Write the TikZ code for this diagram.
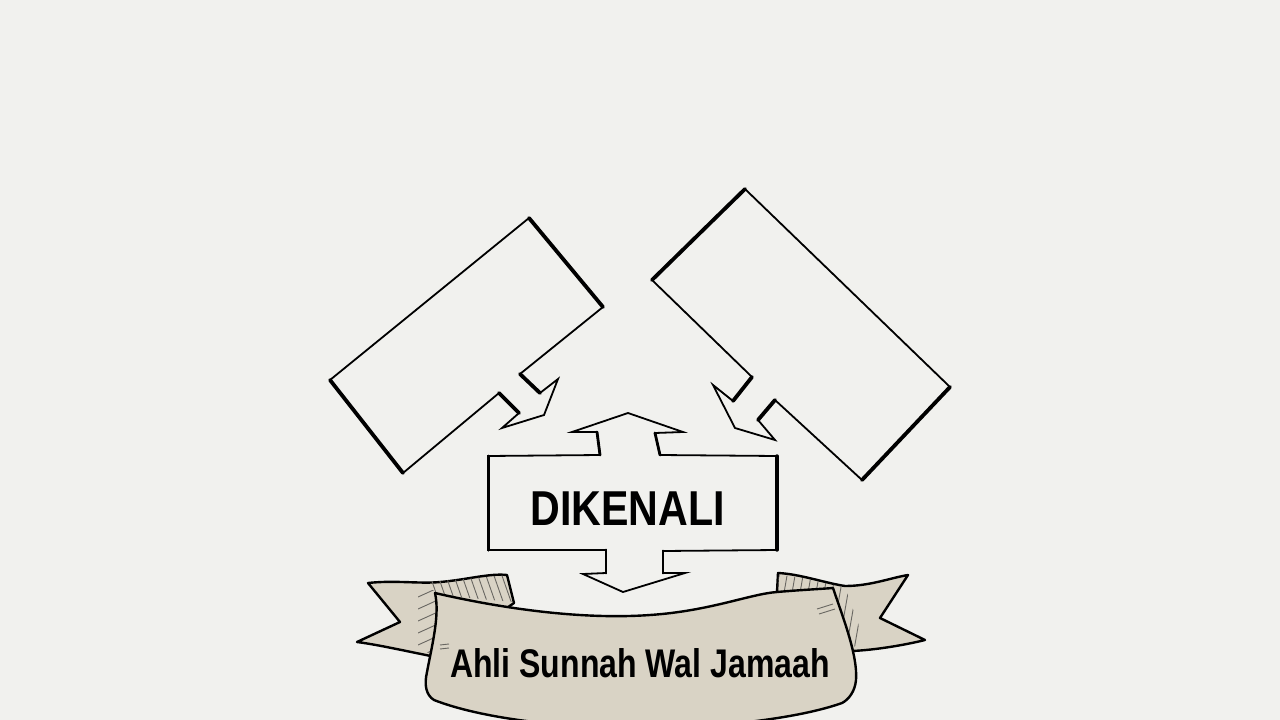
\documentclass[tikz,border=0pt]{standalone}
\usepackage{fontspec}
\newfontfamily\dkfont[FakeStretch=0.84]{Liberation Sans}
\newfontfamily\bnfont[FakeStretch=0.80]{Liberation Sans}
\definecolor{paper}{RGB}{241,241,238}
\definecolor{ribbon}{RGB}{217,211,197}
\definecolor{hatch}{RGB}{105,103,98}
\tikzset{
 outline/.style={draw=black, line width=1.8pt, line join=miter, fill=paper},
 heavy/.style={draw=black, line width=3.8pt, line cap=round},
 ribbonline/.style={draw=black, line width=2.4pt, fill=ribbon, line join=round},
 hatchline/.style={draw=hatch, line width=0.9pt},
 lbl/.style={inner sep=0pt, anchor=base, text=black}
}
\begin{document}
\begin{tikzpicture}[x=1pt,y=-1pt]
\fill[paper] (0,0) rectangle (1280,720);
\useasboundingbox (0,0) rectangle (1280,720);

% ---------- left box ----------
\coordinate (L1) at (529,218);
\coordinate (L2) at (603,307);
\coordinate (La) at (520,374);
\coordinate (Lb) at (540,393);
\coordinate (Lc) at (558,379);
\coordinate (Ld) at (544,415);
\coordinate (Le) at (502,428);
\coordinate (Lf) at (519,413);
\coordinate (Lg) at (499,393);
\coordinate (L3) at (403,473);
\coordinate (L4) at (330,380);
\draw[outline] (L1) -- (L2) -- (La) -- (Lb) -- (Lc) -- (Ld) -- (Le) -- (Lf) -- (Lg) -- (L3) -- (L4) -- cycle;
\draw[heavy] (L1) -- (L2);
\draw[heavy] (L4) -- (L3);
\draw[heavy] (La) -- (Lb);
\draw[heavy] (Lg) -- (Lf);

% ---------- right box ----------
\coordinate (R1) at (745,189);
\coordinate (R2) at (950,387);
\coordinate (R3) at (862,480);
\coordinate (Ra) at (775,400);
\coordinate (Rb) at (758,420);
\coordinate (Rc) at (775,440);
\coordinate (Rd) at (735,428);
\coordinate (Re) at (713,385);
\coordinate (Rf) at (733,401);
\coordinate (Rg) at (752,377);
\coordinate (R4) at (652,280);
\draw[outline] (R1) -- (R2) -- (R3) -- (Ra) -- (Rb) -- (Rc) -- (Rd) -- (Re) -- (Rf) -- (Rg) -- (R4) -- cycle;
\draw[heavy] (R4) -- (R1);
\draw[heavy] (R2) -- (R3);
\draw[heavy] (Ra) -- (Rb);
\draw[heavy] (Rf) -- (Rg);

% ---------- centre box with double arrow ----------
\coordinate (C1) at (488,456);
\coordinate (C2) at (600,455);
\coordinate (C3) at (597,432);
\coordinate (C4) at (572,432);
\coordinate (C5) at (628,413);
\coordinate (C6) at (683,432);
\coordinate (C7) at (655,433);
\coordinate (C8) at (660,455);
\coordinate (C9) at (777,456);
\coordinate (C10) at (777,550);
\coordinate (C11) at (663,551);
\coordinate (C12) at (663,573);
\coordinate (C13) at (685,573);
\coordinate (C14) at (623,592);
\coordinate (C15) at (583,574);
\coordinate (C16) at (606,573);
\coordinate (C17) at (606,550);
\coordinate (C18) at (488,550);
\draw[outline] (C1) -- (C2) -- (C3) -- (C4) -- (C5) -- (C6) -- (C7) -- (C8) -- (C9) -- (C10) -- (C11) -- (C12) -- (C13) -- (C14) -- (C15) -- (C16) -- (C17) -- (C18) -- cycle;
\draw[heavy, line width=3pt] (C18) -- (C1);
\draw[heavy, line width=3.4pt] (C9) -- (C10);
\draw[heavy, line width=2.8pt] (C2) -- (C3);
\draw[heavy, line width=2.8pt] (C7) -- (C8);
\draw[heavy, line width=2.8pt] (C11) -- (C12);
\draw[heavy, line width=2.8pt] (C16) -- (C17);
\node[lbl, font=\dkfont\bfseries\fontsize{49}{49}\selectfont] (dk) at (627.5,525) {DIKENALI};

% ---------- banner: left tail ----------
\path[ribbonline] (368,583) .. controls (395,580) and (420,584) .. (440,582)
  .. controls (465,580) and (490,573) .. (507,575) -- (514,603) -- (436,657)
  .. controls (410,652) and (380,645) .. (357,642) -- (400,622) -- cycle;
\begin{scope}
 \clip (430,582) -- (507,575) -- (514,602) -- (436,595) -- cycle;
 \foreach \x in {420,428,...,530} \draw[hatchline] (\x,570) -- (\x+14,610);
\end{scope}
\begin{scope}
 \clip (418,590) -- (440,590) -- (440,656) -- (418,650) -- cycle;
 \foreach \y in {585,597,...,660} \draw[hatchline] (418,\y) -- (440,\y-10);
\end{scope}

% ---------- banner: right tail ----------
\path[ribbonline] (778,573) .. controls (800,574) and (825,583) .. (845,586)
  .. controls (870,586) and (890,578) .. (908,575) -- (880,618) -- (925,640)
  .. controls (905,645) and (875,650) .. (852,651) -- (800,600) -- (777,592) -- cycle;
\begin{scope}
 \clip (779,575) .. controls (800,576) and (825,584) .. (845,587) -- (864,640) -- (852,648) -- (833,590) -- (777,592) -- cycle;
 \foreach \x in {772,780,...,870} \draw[hatchline] (\x,570) -- (\x-14,650);
\end{scope}

% ---------- banner: main ----------
\path[ribbonline] (435,593) .. controls (500,608) and (580,620) .. (650,615)
  .. controls (710,611) and (750,594) .. (777,592)
  .. controls (800,590) and (820,589) .. (833,588)
  .. controls (842,615) and (858,655) .. (856,680)
  .. controls (855,692) and (848,700) .. (842,703)
  .. controls (800,718) and (720,728) .. (640,728)
  .. controls (560,728) and (480,718) .. (434,700)
  .. controls (426,695) and (424,685) .. (427,672)
  .. controls (432,645) and (440,615) .. (435,593) -- cycle;
\draw[hatchline] (817,609) -- (833,604);
\draw[hatchline] (819,614) -- (835,609);
\draw[hatchline] (440,645) -- (449,644);
\draw[hatchline] (440,649) -- (449,648);
\node[lbl, font=\bnfont\bfseries\fontsize{40}{40}\selectfont] (asw) at (640,677) {Ahli Sunnah Wal Jamaah};
\end{tikzpicture}
\end{document}
